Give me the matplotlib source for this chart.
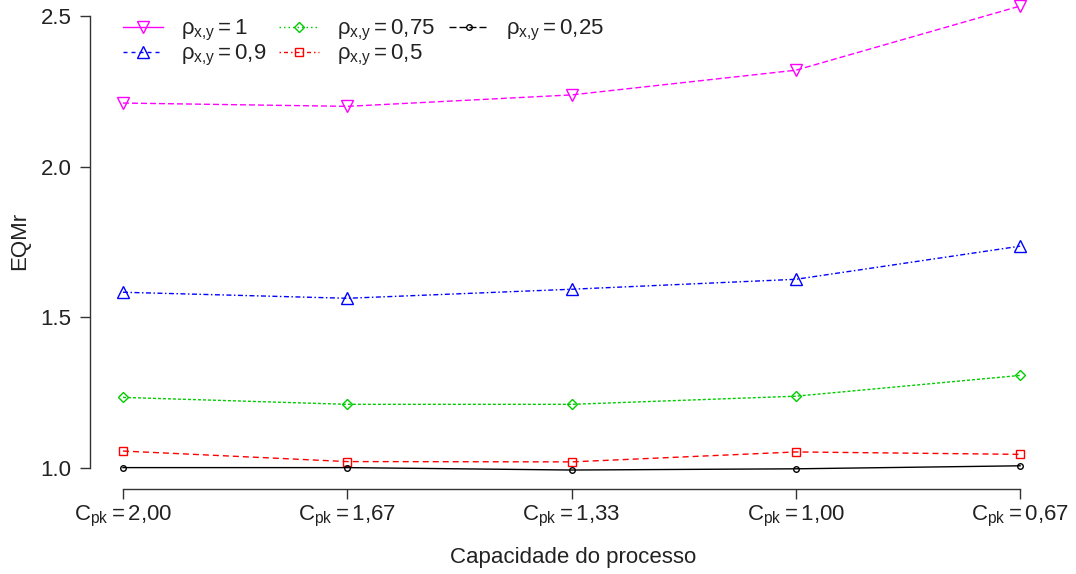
import matplotlib
matplotlib.use("Agg")
import matplotlib.pyplot as plt
from matplotlib.lines import Line2D

plt.rcParams['font.family'] = ['Liberation Sans', 'DejaVu Sans']
plt.rcParams['mathtext.fontset'] = 'custom'
plt.rcParams['mathtext.rm'] = 'Liberation Sans'
plt.rcParams['mathtext.it'] = 'Liberation Sans'
plt.rcParams['mathtext.sf'] = 'Liberation Sans'
plt.rcParams['lines.scale_dashes'] = False

# Process capability levels (x axis) and relative MSE for each correlation
cpk_labels = ["2,00", "1,67", "1,33", "1,00", "0,67"]
x_pos = [1, 2, 3, 4, 5]

rho_labels = ["1", "0,9", "0,75", "0,5", "0,25"]
eqmr_rho_1 = [2.211, 2.200, 2.238, 2.320, 2.533]
eqmr_rho_09 = [1.583, 1.563, 1.593, 1.626, 1.736]
eqmr_rho_075 = [1.234, 1.211, 1.211, 1.238, 1.307]
eqmr_rho_05 = [1.056, 1.021, 1.020, 1.053, 1.045]
eqmr_rho_025 = [1.001, 1.001, 0.993, 0.997, 1.007]

series = [eqmr_rho_1, eqmr_rho_09, eqmr_rho_075, eqmr_rho_05, eqmr_rho_025]
colors = ['#FF00FF', '#0000FF', '#00CD00', '#FF0000', '#000000']
markers = ['v', '^', 'D', 's', 'o']
msizes = [8.0, 8.0, 5.5, 5.5, 4.0]
px = 0.72  # one pixel in points
plot_dashes = [(6 * px, 3 * px), (5 * px, 2.5 * px, 1.5 * px, 2.5 * px),
               (3 * px, 2 * px), (6 * px, 4 * px), None]
legend_dashes = [None, (4 * px, 4 * px), (1.5 * px, 3 * px),
                 (1.5 * px, 3 * px, 4 * px, 3 * px), (7 * px, 3 * px)]

fig = plt.figure(figsize=(10.76, 5.74), dpi=100)
ax = fig.add_axes([90 / 1076, 85 / 574, (1056 - 90) / 1076, 489 / 574])

lw = 1.0
for vals, c, m, ms, d in zip(series, colors, markers, msizes, plot_dashes):
    line, = ax.plot(x_pos, vals, color=c, lw=lw, marker=m, ms=ms,
                    mfc='none', mec=c, mew=1.0)
    if d is not None:
        line.set_dashes(d)

ax.set_xlim(0.853, 5.16)
ax.set_ylim(0.930, 2.553)

for s in ['top', 'right']:
    ax.spines[s].set_visible(False)
txt_color = '#222222'
ax.spines['left'].set_bounds(1.0, 2.5)
ax.spines['bottom'].set_bounds(1, 5)
for s in ['left', 'bottom']:
    ax.spines[s].set_color('#333333')
    ax.spines[s].set_linewidth(1.0)

fs = 16
ax.set_yticks([1.0, 1.5, 2.0, 2.5])
ax.set_yticklabels(["1.0", "1.5", "2.0", "2.5"])
ax.set_xticks(x_pos)
ax.set_xticklabels([r'$\mathrm{C_{pk}=' + lab.replace(',', '{,}') + '}$' for lab in cpk_labels])
ax.tick_params(axis='both', length=7.5, width=1.0, color='#333333',
               labelsize=fs, labelcolor=txt_color)
ax.tick_params(axis='y', pad=6)
ax.tick_params(axis='x', pad=3)

ax.set_xlabel("Capacidade do processo", fontsize=fs, color=txt_color, labelpad=13)
fig.text(20 / 1076, 1 - 241 / 574, "EQMr", rotation=90, fontsize=fs,
         color=txt_color, ha='center', va='center')

handles = []
for c, m, ms, d in zip(colors, markers, msizes, legend_dashes):
    h = Line2D([0], [0], color=c, lw=lw, marker=m, ms=ms, mfc='none', mec=c, mew=1.0)
    if d is not None:
        h.set_dashes(d)
    handles.append(h)
labels = [r'$\rho_{x{,}y}=' + r.replace(',', '{,}') + '$' for r in rho_labels]

leg = ax.legend(handles, labels, ncol=3, loc='upper left',
                bbox_to_anchor=(123 / 1076, 1 - 18 / 574), bbox_transform=fig.transFigure,
                frameon=False, fontsize=fs, handlelength=1.8, handletextpad=0.8,
                columnspacing=0.6, labelspacing=0.0, borderaxespad=0, borderpad=0)
for t in leg.get_texts():
    t.set_color(txt_color)

fig.savefig("out.png", dpi=100)
